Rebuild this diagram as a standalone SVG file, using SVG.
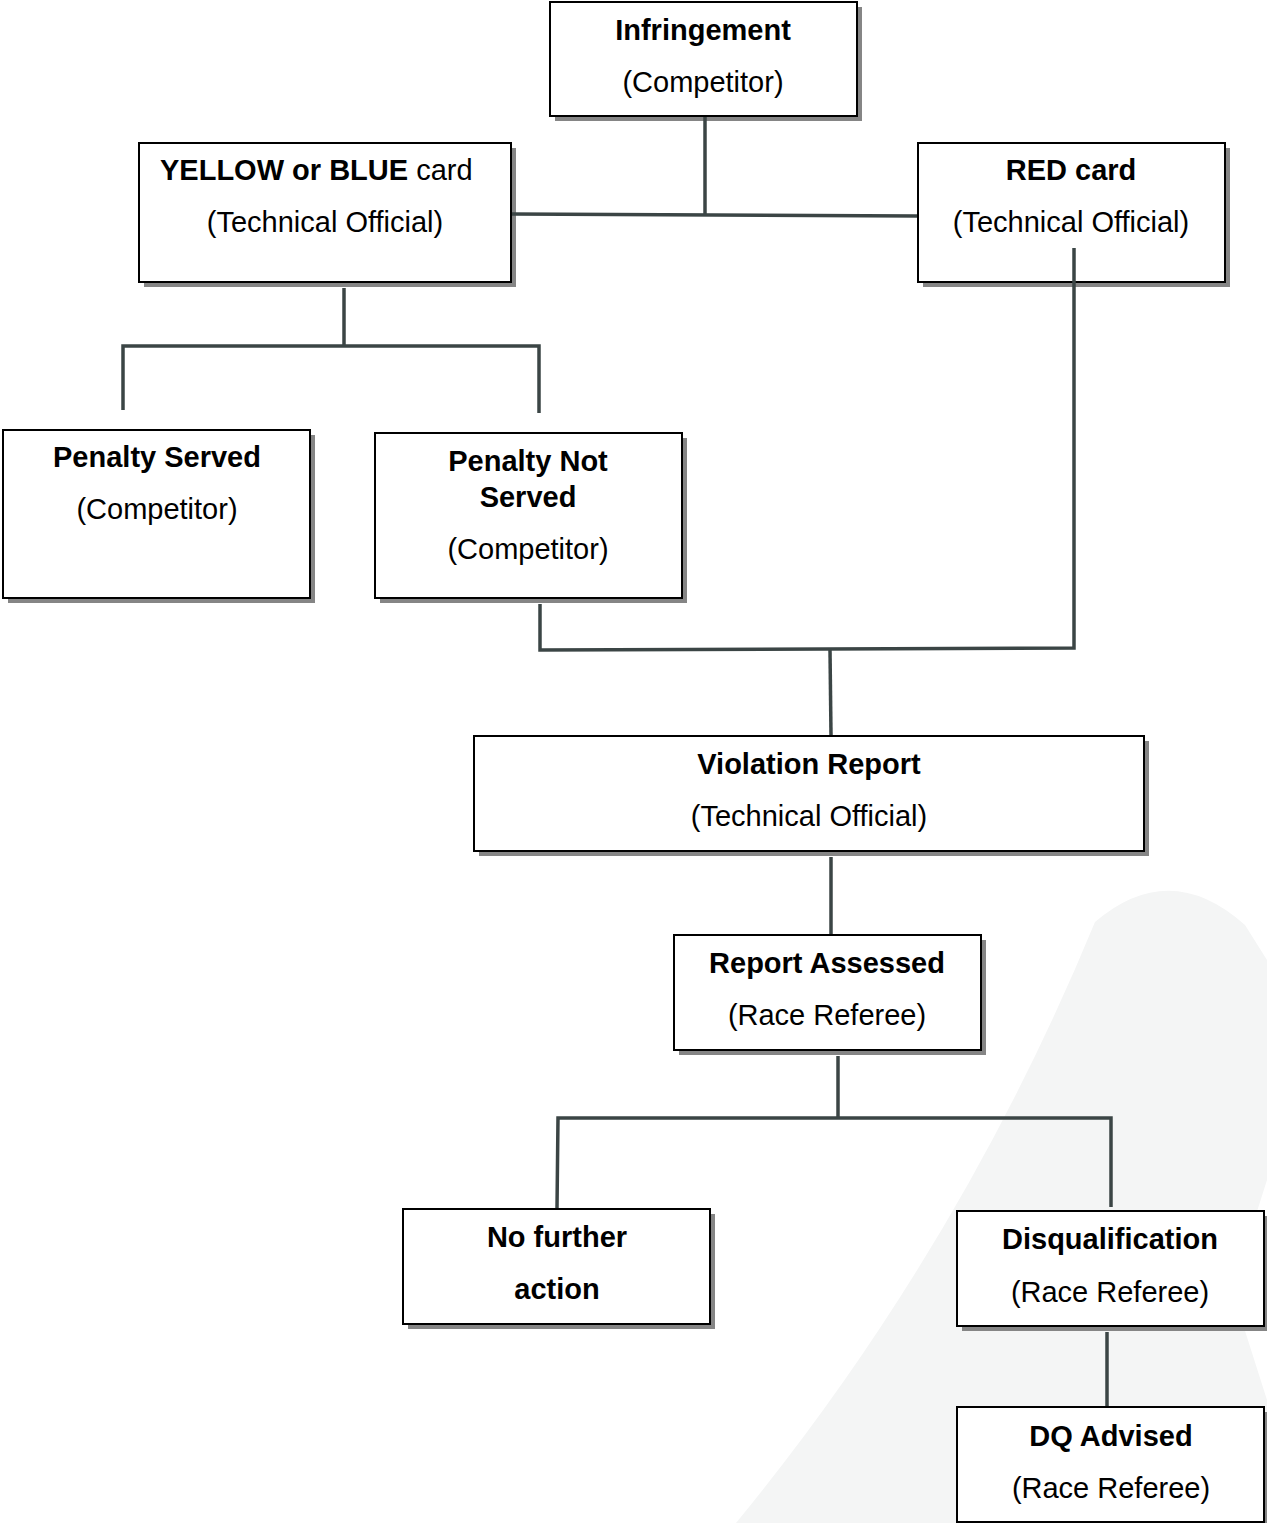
<svg xmlns="http://www.w3.org/2000/svg" width="1267" height="1523" viewBox="0 0 1267 1523">
<style>
.bg{fill:#ffffff}
.wm{fill:#f4f5f5}
.sh{fill:#858585}
.box{fill:#ffffff;stroke:#000000;stroke-width:2}
.t{font-family:"Liberation Sans",Arial,sans-serif;font-size:29px;fill:#000000;text-anchor:middle}
.b{font-weight:bold}
.ln{fill:none;stroke:#3b4545;stroke-width:3.5;stroke-linejoin:miter;stroke-linecap:butt}
</style>
<rect class="bg" x="0" y="0" width="1267" height="1523"/>
<path class="wm" d="M736,1523 Q960,1250 1095,922 Q1170,858 1245,925 L1267,960 L1267,1180 L1232,1290 L1267,1400 L1267,1523 Z"/>

<g id="infringement">
<rect class="sh" x="555" y="7" width="307" height="114"/>
<rect class="box" x="550" y="2" width="307" height="114"/>
<text class="t b" x="703" y="40">Infringement</text>
<text class="t" x="703" y="92">(Competitor)</text>
</g>

<g id="yellow-blue">
<rect class="sh" x="144" y="148" width="372" height="139"/>
<rect class="box" x="139" y="143" width="372" height="139"/>
<text class="t" x="160" y="180" style="text-anchor:start"><tspan class="b">YELLOW or BLUE</tspan> card</text>
<text class="t" x="325" y="232">(Technical Official)</text>
</g>

<g id="red-card">
<rect class="sh" x="923" y="148" width="307" height="139"/>
<rect class="box" x="918" y="143" width="307" height="139"/>
<text class="t b" x="1071" y="180">RED card</text>
<text class="t" x="1071" y="232">(Technical Official)</text>
</g>

<g id="penalty-served">
<rect class="sh" x="8" y="435" width="307" height="168"/>
<rect class="box" x="3" y="430" width="307" height="168"/>
<text class="t b" x="157" y="467">Penalty Served</text>
<text class="t" x="157" y="519">(Competitor)</text>
</g>

<g id="penalty-not-served">
<rect class="sh" x="380" y="438" width="307" height="165"/>
<rect class="box" x="375" y="433" width="307" height="165"/>
<text class="t b" x="528" y="471">Penalty Not</text>
<text class="t b" x="528" y="507">Served</text>
<text class="t" x="528" y="559">(Competitor)</text>
</g>

<g id="violation-report">
<rect class="sh" x="479" y="741" width="670" height="115"/>
<rect class="box" x="474" y="736" width="670" height="115"/>
<text class="t b" x="809" y="774">Violation Report</text>
<text class="t" x="809" y="826">(Technical Official)</text>
</g>

<g id="report-assessed">
<rect class="sh" x="679" y="940" width="307" height="115"/>
<rect class="box" x="674" y="935" width="307" height="115"/>
<text class="t b" x="827" y="973">Report Assessed</text>
<text class="t" x="827" y="1025">(Race Referee)</text>
</g>

<g id="no-further-action">
<rect class="sh" x="408" y="1214" width="307" height="115"/>
<rect class="box" x="403" y="1209" width="307" height="115"/>
<text class="t b" x="557" y="1247">No further</text>
<text class="t b" x="557" y="1299">action</text>
</g>

<g id="disqualification">
<rect class="sh" x="962" y="1216" width="307" height="115"/>
<rect class="box" x="957" y="1211" width="307" height="115"/>
<text class="t b" x="1110" y="1249">Disqualification</text>
<text class="t" x="1110" y="1302">(Race Referee)</text>
</g>

<g id="dq-advised">
<rect class="sh" x="962" y="1412" width="307" height="115"/>
<rect class="box" x="957" y="1407" width="307" height="115"/>
<text class="t b" x="1111" y="1446">DQ Advised</text>
<text class="t" x="1111" y="1498">(Race Referee)</text>
</g>

<g id="connectors">
<path class="ln" d="M705,117 V215"/>
<path class="ln" d="M512,214 L917,216"/>
<path class="ln" d="M344,288 V346"/>
<path class="ln" d="M123,410 V346 H539 V413"/>
<path class="ln" d="M1074,248 V648 L540,650 V604"/>
<path class="ln" d="M830,650 L831,735"/>
<path class="ln" d="M831,857 V934"/>
<path class="ln" d="M838,1056 V1117"/>
<path class="ln" d="M557,1208 L558,1118 L1111,1118 V1207"/>
<path class="ln" d="M1107,1332 V1406"/>
</g>
</svg>
